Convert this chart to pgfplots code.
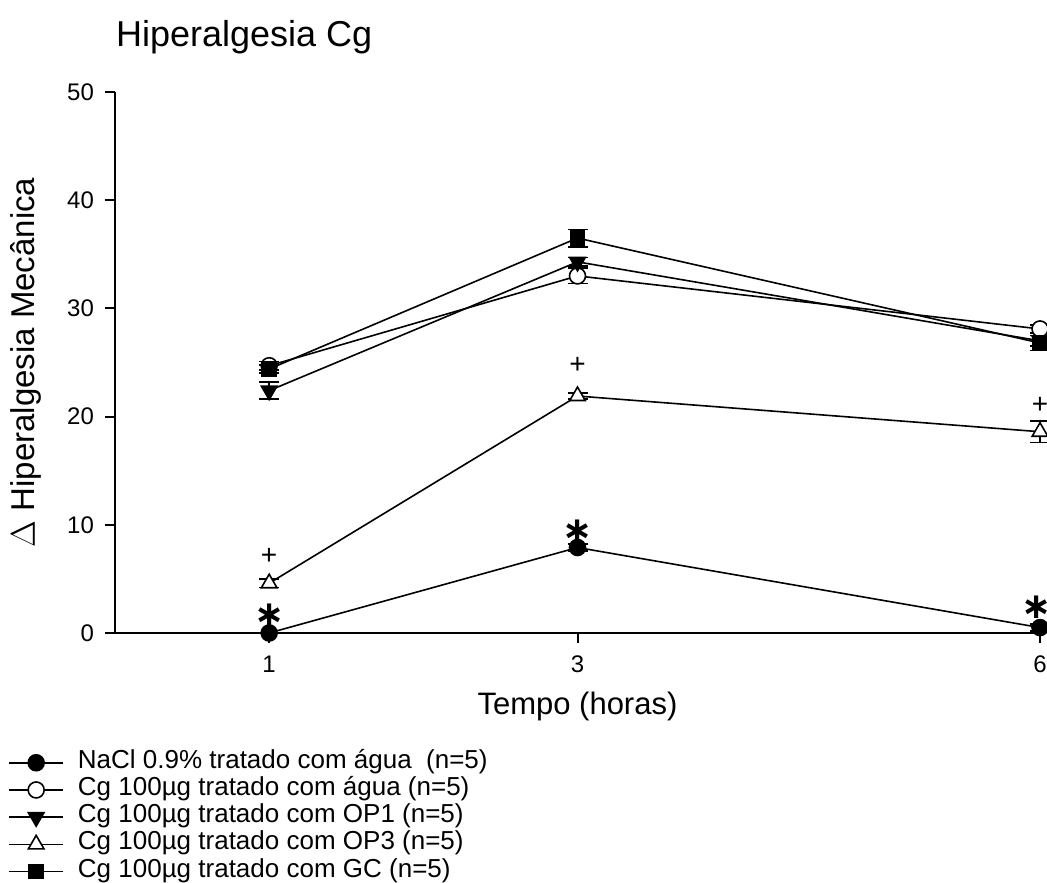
\documentclass[border=0pt]{standalone}
\usepackage{fontspec}
\setmainfont{Liberation Sans}
\newfontfamily\djv{DejaVu Sans}
\usepackage{pgfplots}
\pgfplotsset{compat=1.18}
\begin{document}
\begin{tikzpicture}
\begin{axis}[
  scale only axis, width=462.5pt, height=270.5pt,
  xmin=0, xmax=6, ymin=0, ymax=50,
  axis lines*=left,
  xtick={1,3,6}, ytick={0,10,20,30,40,50},
  tick align=outside, major tick length=5pt,
  tick style={line width=1pt, black},
  axis line style={line width=1pt, black},
  /pgf/number format/assume math mode=true,
  ticklabel style={font=\fontsize{12}{12}\selectfont},
  xticklabel style={yshift=-3pt},
  yticklabel style={xshift=-2pt},
  clip=false,
  title={Hiperalgesia Cg},
  title style={at={(axis description cs:0,1)}, anchor=base west, yshift=16.5pt, xshift=-3pt, font=\fontsize{18}{18}\selectfont},
  xlabel={Tempo (horas)},
  xlabel style={at={(axis description cs:0.5,0)}, anchor=base, yshift=-41pt, font=\fontsize{15.5}{15.5}\selectfont},
  ylabel={$\Delta$ Hiperalgesia Mecânica},
  ylabel style={at={(axis description cs:-0.0865,0.5)}, anchor=base, font=\fontsize{16.5}{16.5}\selectfont},
  legend style={at={(axis description cs:-0.1157,-0.2140)}, anchor=north west, draw=none, fill=none, inner sep=0pt,
    font=\fontsize{13}{13}\selectfont, cells={anchor=west}, row sep=0pt,
    nodes={inner ysep=0pt, text height=9.6pt, text depth=4pt},
    /tikz/every odd column/.append style={column sep=5pt}},
  legend image code/.code={\draw[mark repeat=2,mark phase=2] plot coordinates {(0pt,0pt) (13.5pt,0pt) (27pt,0pt)};},
  error bars/error bar style={line width=0.9pt, black},
  error bars/error mark options={rotate=90, mark size=5pt, line width=0.9pt, black},
]
\addplot[black, line width=0.8pt, mark=*, mark size=4pt, mark options={fill=black, solid},
  error bars/.cd, y dir=both, y explicit]
  coordinates {(1,0) +- (0,0) (3,7.9) +- (0,0.3) (6,0.5) +- (0,0.3)};
\addlegendentry{NaCl 0.9\% tratado com água\ \ (n=5)}
\addplot[black, line width=0.8pt, mark=*, mark size=4pt, mark options={fill=white, solid},
  error bars/.cd, y dir=both, y explicit]
  coordinates {(1,24.7) +- (0,0.4) (3,33.0) +- (0,0.7) (6,28.1) +- (0,0.4)};
\addlegendentry{Cg 100µg tratado com água (n=5)}
\addplot[black, line width=0.8pt, mark=triangle*, mark size=4.5pt, mark options={fill=black, solid, rotate=180},
  error bars/.cd, y dir=both, y explicit]
  coordinates {(1,22.4) +- (0,0.8) (3,34.3) +- (0,0.4) (6,27.0) +- (0,0.5)};
\addlegendentry{Cg 100µg tratado com OP1 (n=5)}
\addplot[black, line width=0.8pt, mark=triangle*, mark size=4.5pt, mark options={fill=white, solid},
  error bars/.cd, y dir=both, y explicit]
  coordinates {(1,4.6) +- (0,0.4) (3,21.9) +- (0,0.3) (6,18.6) +- (0,1.0)};
\addlegendentry{Cg 100µg tratado com OP3 (n=5)}
\addplot[black, line width=0.8pt, mark=square*, mark size=3.5pt, mark options={fill=black, solid},
  error bars/.cd, y dir=both, y explicit]
  coordinates {(1,24.4) +- (0,0.4) (3,36.5) +- (0,0.8) (6,26.8) +- (0,0.7)};
\addlegendentry{Cg 100µg tratado com GC (n=5)}
\node[font=\djv\bfseries\fontsize{18}{18}\selectfont] at (axis cs:1,1.6) {∗};
\node[font=\djv\bfseries\fontsize{18}{18}\selectfont] at (axis cs:3,9.4) {∗};
\node[font=\djv\bfseries\fontsize{18}{18}\selectfont, xshift=-1.5pt] at (axis cs:6,2.4) {∗};
\node[font=\fontsize{14}{14}\selectfont] at (axis cs:1,7.1) {+};
\node[font=\fontsize{14}{14}\selectfont] at (axis cs:3,24.7) {+};
\node[font=\fontsize{14}{14}\selectfont] at (axis cs:6,21.0) {+};
\end{axis}
\pgfresetboundingbox
\path ([xshift=-57.5pt,yshift=-125pt]current axis.south west) rectangle ([xshift=3.5pt,yshift=46pt]current axis.north east);
\end{tikzpicture}
\end{document}
